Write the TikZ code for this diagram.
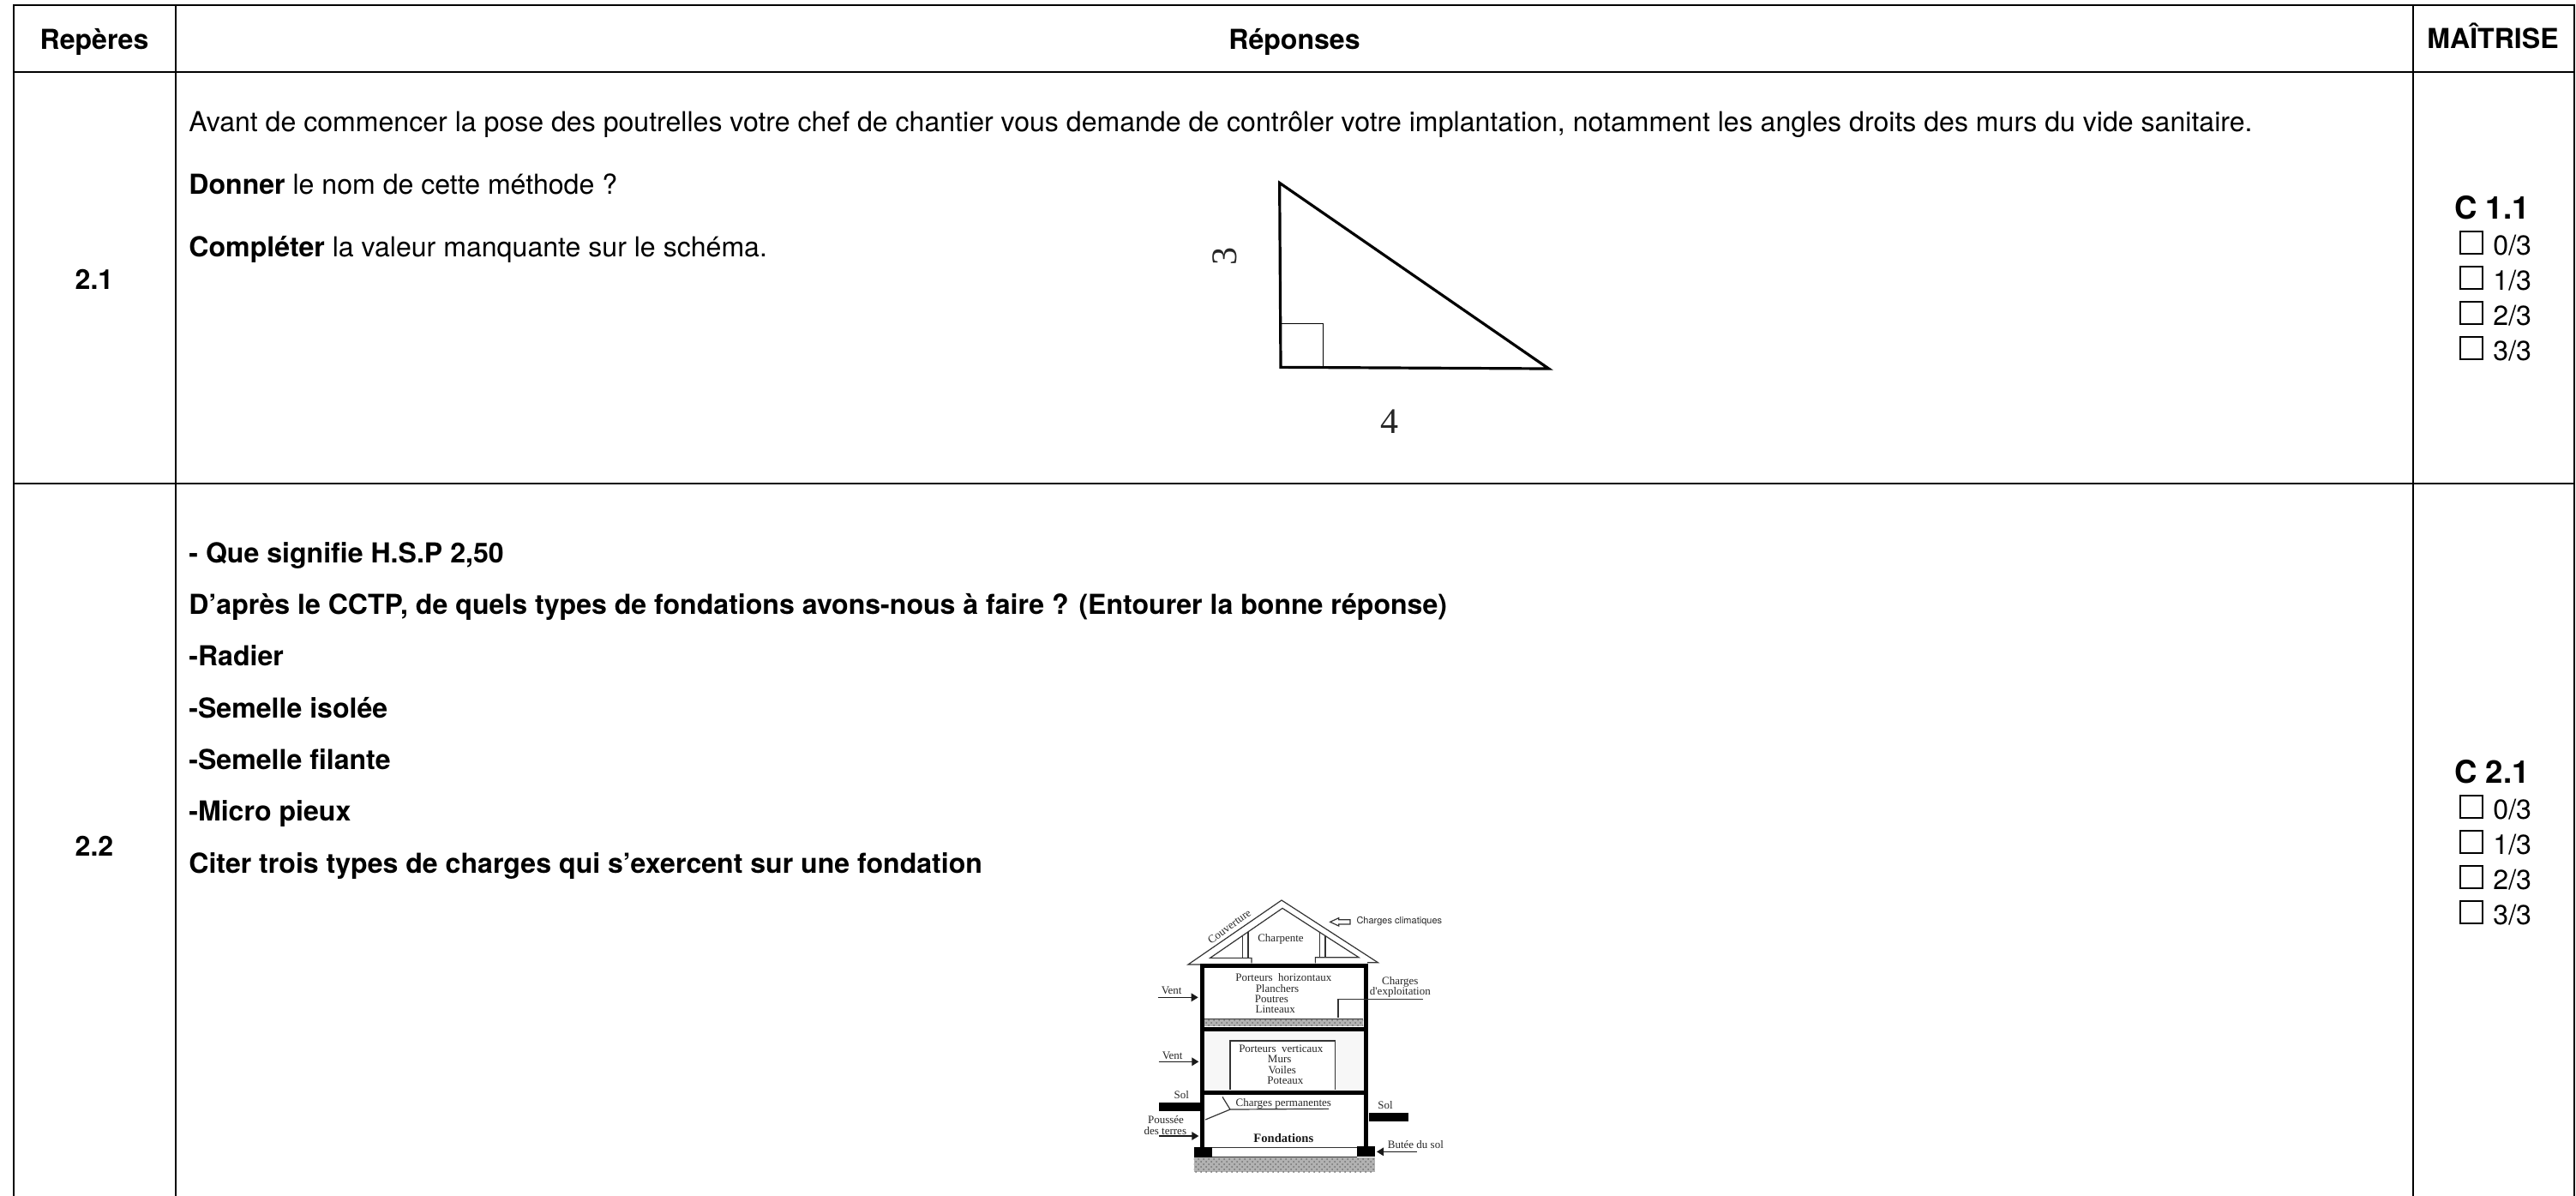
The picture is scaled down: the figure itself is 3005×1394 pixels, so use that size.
\documentclass[tikz,border=0pt]{standalone}
\usepackage{fontspec}
\setmainfont{TeX Gyre Heros}
\newfontfamily\hserif{Liberation Serif}
\usetikzlibrary{patterns,arrows.meta}
\tikzset{
  txt/.style={anchor=base west,inner sep=0pt,font=\fontsize{16.04}{18}\selectfont},
  head/.style={anchor=base,inner sep=0pt,font=\fontsize{16.04}{18}\selectfont\bfseries},
  comp/.style={anchor=base,inner sep=0pt,font=\fontsize{18.3}{20}\selectfont\bfseries},
  lvl/.style={anchor=base west,inner sep=0pt,font=\fontsize{16.04}{18}\selectfont},
  chk/.style={draw,line width=1.15pt,minimum size=13pt,inner sep=0pt,anchor=south west},
  grid/.style={line width=1.25pt,line cap=rect},
  htxt/.style={inner sep=0pt,text=black!85,font=\hserif\fontsize{6.5}{8}\selectfont},
  hthin/.style={line width=0.6pt,draw=black!80},
  hthick/.style={line width=2.5pt,draw=black},
  harrow/.style={line width=0.6pt,draw=black!90,-{Triangle[length=4pt,width=4.8pt]}},
  tri/.style={line width=1.6pt,line cap=round,line join=miter},
}
\begin{document}
\begin{tikzpicture}[x=0.5pt,y=-0.5pt]
\useasboundingbox (0,0) rectangle (3005,1394);
% grid
\coordinate (tl) at (16,6); \coordinate (tr) at (3003,6);
\coordinate (hl) at (16,84); \coordinate (hr) at (3003,84);
\coordinate (rl) at (16,564); \coordinate (rr) at (3003,564);
\coordinate (bl) at (16,1394); \coordinate (br) at (3003,1394);
\coordinate (c1t) at (205,6); \coordinate (c1b) at (205,1394);
\coordinate (c2t) at (2815,6); \coordinate (c2b) at (2815,1394);
\draw[grid] (bl) -- (tl) -- (tr) -- (br);
\draw[grid] (hl) -- (hr);
\draw[grid] (rl) -- (rr);
\draw[grid] (c1t) -- (c1b);
\draw[grid] (c2t) -- (c2b);
% header
\node[head] (h1) at (110,57) {Repères};
\node[head] (h2) at (1510,57) {Réponses};
\node[head] (h3) at (2908,56) {MAÎTRISE};
\node[head] (r1) at (110,337) {2.1};
\node[head] (r2) at (110,998) {2.2};
% row 1
\node[txt] (t1) at (220,153) {Avant de commencer la pose des poutrelles votre chef de chantier vous demande de contrôler votre implantation, notamment les angles droits des murs du vide sanitaire.};
\node[txt] (t2) at (220,226) {\textbf{Donner} le nom de cette méthode ?};
\node[txt] (t3) at (220,299) {\textbf{Compléter} la valeur manquante sur le schéma.};
% row 2
\begin{scope}[every node/.append style={txt,font=\fontsize{16.04}{18}\selectfont\bfseries}]
\node (q1) at (220,656) {- Que signifie H.S.P 2,50};
\node (q2) at (220,716) {D’après le CCTP, de quels types de fondations avons-nous à faire ? (Entourer la bonne réponse)};
\node (q3) at (220,776.5) {-Radier};
\node (q4) at (220,837) {-Semelle isolée};
\node (q5) at (220,897) {-Semelle filante};
\node (q6) at (220,957.5) {-Micro pieux};
\node (q7) at (220,1018) {Citer trois types de charges qui s’exercent sur une fondation};
\end{scope}
% competences
\node[comp] (c1) at (2907,255) {C 1.1};
\foreach \n/\b/\l in {a/297/0,b/338/1,c/379/2,d/420/3}{
  \node[chk] (k\n) at (2868.5,\b) {};
  \node[lvl] (l\n) at (2908,\b) {\l/3};
}
\node[comp] (c2) at (2907,913) {C 2.1};
\foreach \n/\b/\l in {e/955/0,f/996/1,g/1037/2,h/1078/3}{
  \node[chk] (k\n) at (2868.5,\b) {};
  \node[lvl] (l\n) at (2908,\b) {\l/3};
}
% triangle
\begin{scope}[shift={(1380,190)},x=0.16667pt,y=-0.16667pt]
\coordinate (A) at (338,70); \coordinate (B) at (342,715); \coordinate (C) at (1280,720);
\draw[tri] (A) -- (B) -- (C) -- cycle;
\draw[line width=0.65pt] (345,563) -- (490,563) -- (490,712);
\node[inner sep=0pt,rotate=90,font=\hserif\fontsize{21}{24}\selectfont,text=black!85] (three) at (146,326) {3};
\node[inner sep=0pt,font=\hserif\fontsize{21}{24}\selectfont,text=black!85] (four) at (722,905) {4};
\end{scope}
% house
\begin{scope}[shift={(1300,1030)},x=0.16667pt,y=-0.16667pt]
% fills
\fill[black!3] (318,518) rectangle (870,726);
\fill[white] (405,552) rectangle (772,722);
\fill[black!30] (315,478) rectangle (870,500);
\fill[pattern=crosshatch dots,pattern color=black!55] (315,478) rectangle (870,500);
\fill[black!30] (278,960) rectangle (912,1012);
\fill[pattern=crosshatch dots,pattern color=black!55] (278,960) rectangle (912,1012);
% roof
\draw[hthin] (300,285) -- (258,285) -- (585,60) -- (922,278) -- (885,278);
\draw[hthin] (480,280) -- (480,262) -- (335,262) -- (588,88) -- (855,260) -- (703,260) -- (703,280);
\draw[hthin] (448,185) -- (448,262) (468,172) -- (468,262) (718,172) -- (718,260) (738,185) -- (738,260);
% frame
\draw[hthick] (307,925) -- (307,289) -- (879,289) -- (879,925);
\draw[hthick] (307,510) -- (879,510);
\draw[hthick] (307,734) -- (879,734);
\fill[black] (278,925) rectangle (342,960);
\fill[black] (848,922) rectangle (912,958);
\draw[hthin] (342,925) -- (848,925) (342,958) -- (848,958);
\fill[black] (157,768) rectangle (300,797);
\fill[black] (892,803) rectangle (1028,835);
% box
\draw[hthin] (405,722) -- (405,552) -- (772,552) -- (772,722);
% leaders
\draw[hthin] (1080,407) -- (783,407) -- (783,472);
\draw[hthin] (750,790) -- (405,792) -- (378,748);
\draw[hthin] (405,792) -- (318,828);
\draw[hthin] (315,476) -- (870,476);
% arrows
\coordinate (v1a) at (152,400); \coordinate (v1b) at (293,400);
\coordinate (v2a) at (155,625); \coordinate (v2b) at (295,625);
\coordinate (v3a) at (155,885); \coordinate (v3b) at (295,885);
\coordinate (v4a) at (1058,940); \coordinate (v4b) at (918,940);
\draw[harrow] (v1a) -- (v1b);
\draw[harrow] (v2a) -- (v2b);
\draw[harrow] (v3a) -- (v3b);
\draw[harrow] (v4a) -- (v4b);
\draw[hthin] (825,128) -- (785,128) -- (785,122) -- (755,136) -- (785,150) -- (785,144) -- (825,144) -- cycle;
% texts
\node[htxt,rotate=36] (n1) at (402,152) {Couverture};
\node[htxt] (n2) at (582,197) {Charpente};
\node[inner sep=0pt,text=black!85,font=\fontsize{5.5}{7}\selectfont] (n3) at (997,135) {Charges climatiques};
\node[htxt] (n4) at (592,331) {Porteurs\ \ horizontaux};
\node[htxt] (n5) at (570,368) {Planchers};
\node[htxt] (n6) at (550,405) {Poutres};
\node[htxt] (n7) at (563,442) {Linteaux};
\node[htxt] (n8) at (200,376) {Vent};
\node[htxt] (n9) at (203,604) {Vent};
\node[htxt] (n10) at (1000,346) {Charges};
\node[htxt] (n11) at (1000,383) {d'exploitation};
\node[htxt] (n12) at (583,581) {Porteurs\ \ verticaux};
\node[htxt] (n13) at (578,617) {Murs};
\node[htxt] (n14) at (587,654) {Voiles};
\node[htxt] (n15) at (598,692) {Poteaux};
\node[htxt] (n16) at (235,741) {Sol};
\node[htxt] (n17) at (948,778) {Sol};
\node[htxt] (n18) at (592,773) {Charges permanentes};
\node[htxt] (n19) at (180,829) {Poussée};
\node[htxt] (n20) at (178,866) {des terres};
\node[htxt,text=black!90,font=\hserif\bfseries\fontsize{7.3}{9}\selectfont] (n21) at (592,892) {Fondations};
\node[htxt] (n22) at (1054,915) {Butée du sol};
\end{scope}
\end{tikzpicture}
\end{document}
